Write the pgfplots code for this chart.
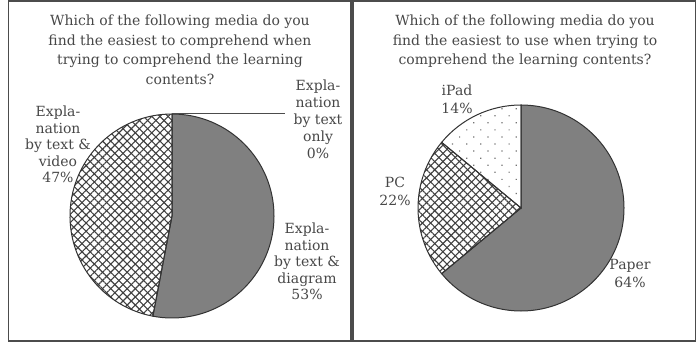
\documentclass[border=0pt]{standalone}
\usepackage{fontspec}
\setmainfont{DejaVu Serif}
\usepackage{pgfplots}
\pgfplotsset{compat=1.18}
\usetikzlibrary{patterns,patterns.meta}

\tikzset{txt/.style={font=\fontsize{14}{16}\selectfont, text=black!72, inner sep=0pt, anchor=base}}
% one line of text, baseline at (x,y)
\newcommand{\tl}[3]{\node[txt] at (axis cs:#1,#2) {#3};}
% pie slice: cx, cy, radius, start angle, percent, style
\newcommand{\slice}[6]{\path[#6] (axis cs:#1,#2) -- ++({#4}:#3) arc[start angle={#4}, delta angle={-3.6*#5}, radius=#3] -- cycle;}
\tikzset{
  solid/.style={fill=black!50},
  xhA/.style={pattern={Lines[angle=45,distance=5.8pt,line width=1.1pt]}, pattern color=black!75},
  xhB/.style={pattern={Lines[angle=-45,distance=5.8pt,line width=1.1pt]}, pattern color=black!75},
  dots/.style={pattern={Dots[angle=45,distance=10pt,radius=0.85pt]}, pattern color=black!55},
  edge/.style={draw=black!80, line width=1pt},
}

\begin{document}
\begin{tikzpicture}[x=1pt,y=1pt]
\useasboundingbox (0,0) rectangle (700,342);
% ---------------- left panel ----------------
\begin{axis}[x=1pt, y=1pt, xmin=0, xmax=350, ymin=0, ymax=342,
  hide axis, clip=false, at={(0,0)}, anchor=origin, disabledatascaling]
\draw[line width=1.6pt, black!70] (axis cs:8.5,1) rectangle (axis cs:351,341);
\tl{180}{316}{Which of the following media do you}
\tl{180}{296}{find the easiest to comprehend when}
\tl{180}{277}{trying to comprehend the learning}
\tl{180}{257}{contents?}
% data: text & diagram 53, text & video 47, text only 0
\slice{172}{126}{102pt}{90}{53}{solid}
\slice{172}{126}{102pt}{90-3.6*53}{47}{fill=white}
\slice{172}{126}{102pt}{90-3.6*53}{47}{xhA}
\slice{172}{126}{102pt}{90-3.6*53}{47}{xhB}
\slice{172}{126}{102pt}{90}{53}{edge}
\slice{172}{126}{102pt}{90-3.6*53}{47}{edge}
\draw[black!70, line width=1pt] (axis cs:172,228) -- (axis cs:285,228);
\tl{318}{251}{Expla-}
\tl{318}{234}{nation}
\tl{318}{217}{by text}
\tl{318}{200}{only}
\tl{318}{183}{0\%}
\tl{58}{225}{Expla-}
\tl{58}{208.5}{nation}
\tl{58}{192}{by text \&}
\tl{58}{175.5}{video}
\tl{58}{159}{47\%}
\tl{307}{108}{Expla-}
\tl{307}{91.5}{nation}
\tl{307}{75}{by text \&}
\tl{307}{58.5}{diagram}
\tl{307}{42}{53\%}
\end{axis}
% ---------------- right panel ----------------
\begin{axis}[x=1pt, y=1pt, xmin=0, xmax=350, ymin=0, ymax=342,
  hide axis, clip=false, at={(350,0)}, anchor=origin, disabledatascaling]
\draw[line width=1.6pt, black!70] (axis cs:3,1) rectangle (axis cs:345.5,341);
\tl{175}{316}{Which of the following media do you}
\tl{175}{296}{find the easiest to use when trying to}
\tl{175}{277}{comprehend the learning contents?}
% data: Paper 64, PC 22, iPad 14
\slice{171}{134}{103pt}{90}{64}{solid}
\slice{171}{134}{103pt}{90-3.6*64}{22}{fill=white}
\slice{171}{134}{103pt}{90-3.6*64}{22}{xhA}
\slice{171}{134}{103pt}{90-3.6*64}{22}{xhB}
\slice{171}{134}{103pt}{90-3.6*86}{14}{fill=white}
\slice{171}{134}{103pt}{90-3.6*86}{14}{dots}
\slice{171}{134}{103pt}{90}{64}{edge}
\slice{171}{134}{103pt}{90-3.6*64}{22}{edge}
\slice{171}{134}{103pt}{90-3.6*86}{14}{edge}
\tl{107}{246}{iPad}
\tl{107}{228}{14\%}
\tl{45}{154}{PC}
\tl{45}{136}{22\%}
\tl{280}{72}{Paper}
\tl{280}{54}{64\%}
\end{axis}
\end{tikzpicture}
\end{document}
